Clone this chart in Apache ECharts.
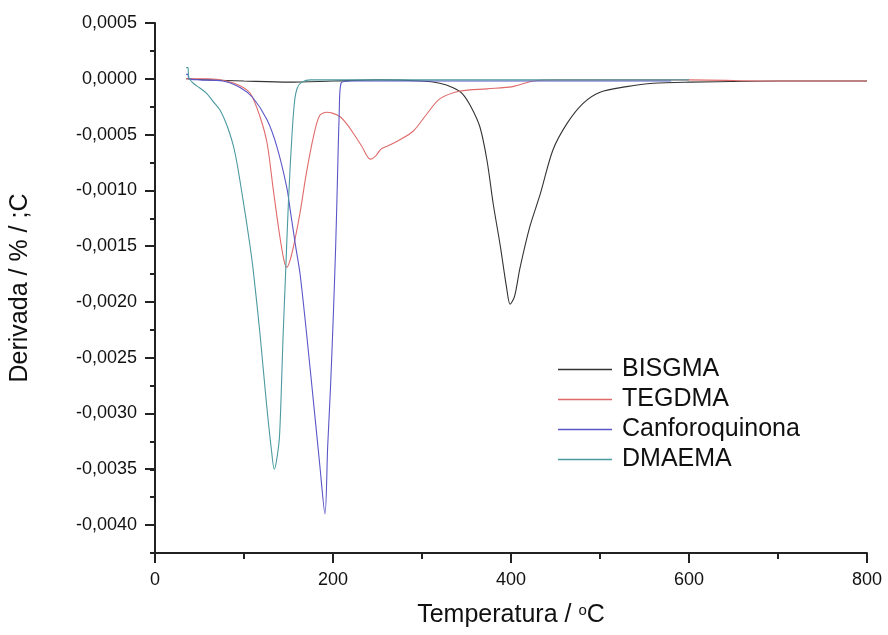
<!DOCTYPE html>
<html>
<head>
<meta charset="utf-8">
<script src="https://cdn.jsdelivr.net/npm/echarts@6/dist/echarts.min.js"></script>
<style>
  html, body { margin: 0; padding: 0; background: #fff; }
  #app { width: 888px; height: 635px; }
</style>
</head>
<body>
<div id="app"></div>
<script>
// series names
var names = ["BISGMA", "TEGDMA", "Canforoquinona", "DMAEMA"];

// BISGMA
var bisgmaT = [35, 60, 100, 150, 200, 250, 300, 320, 335, 345, 355, 365, 373, 380, 388, 395, 399, 404, 410, 421, 433, 447, 463, 481, 500, 530, 560, 600, 700, 800];
var bisgmaD = [0, -0.00001, -0.00002, -0.00003, -0.00002, -0.00001, -0.00002, -0.00004, -0.00008, -0.00013, -0.00025, -0.00043, -0.00073, -0.00112, -0.0015, -0.00187, -0.00202, -0.00195, -0.0017, -0.00133, -0.00103, -0.00064, -0.0004, -0.00022, -0.00012, -0.00007, -0.00004, -0.00003, -0.00002, -0.00002];

// TEGDMA
var tegdmaT = [35, 60, 80, 95, 107, 118, 126, 133, 140, 145, 148, 152, 157, 163, 170, 178, 185, 193, 200, 208, 215, 223, 232, 242, 248, 254, 262, 272, 290, 305, 320, 343, 373, 402, 425, 450, 500, 600, 700, 800];
var tegdmaD = [0, 0, -0.00002, -0.00006, -0.00013, -0.00034, -0.00058, -0.001, -0.0014, -0.00163, -0.00169, -0.00162, -0.00145, -0.0012, -0.00085, -0.00052, -0.00033, -0.0003, -0.00031, -0.00034, -0.0004, -0.00049, -0.0006, -0.00072, -0.00069, -0.00063, -0.0006, -0.00056, -0.00047, -0.00032, -0.00018, -0.00011, -0.00009, -0.00007, -0.00002, -0.00001, -0.00001, -0.00001, -0.00002, -0.00002];

// Canforoquinona
var canforT = [35, 37, 38, 50, 76, 96, 110, 126, 137, 148, 152, 158, 163, 170, 180, 185, 191, 194, 197, 200, 203, 205, 207, 209, 220, 300, 400, 500, 580];
var canforD = [0.00004, 0.00004, 0, -0.00001, -0.00002, -0.00008, -0.00017, -0.00037, -0.00061, -0.00097, -0.00118, -0.0015, -0.00175, -0.00226, -0.00305, -0.00345, -0.0039, -0.0033, -0.0028, -0.0022, -0.0015, -0.0009, -0.0003, -0.00004, -0.00002, -0.00002, -0.00002, -0.00002, -0.00002];

// DMAEMA
var dmaemaT = [35, 37, 38, 43, 50, 58, 65, 73, 80, 84, 88, 92, 99, 105, 110, 118, 125, 131, 134, 137, 140, 144, 147, 150, 154, 157, 160, 165, 175, 250, 400, 600];
var dmaemaD = [0.0001, 0.0001, 0.00001, -0.00004, -0.00008, -0.00013, -0.0002, -0.00028, -0.0004, -0.00049, -0.0006, -0.00075, -0.00109, -0.0014, -0.00169, -0.00229, -0.00289, -0.00334, -0.0035, -0.0034, -0.00319, -0.00229, -0.00169, -0.00109, -0.00049, -0.00019, -0.00008, -0.00003, -0.00001, -0.00001, -0.00001, -0.00001];

var colors = ["#333333", "#e06a6a", "#5a56c8", "#4b9aa0"];

function zip(xs, ys) {
  var out = [];
  for (var i = 0; i < xs.length; i++) out.push([xs[i], ys[i]]);
  return out;
}

var chartDom = document.getElementById("app");
var myChart = echarts.init(chartDom, null, { renderer: "canvas" });
var font = "Liberation Sans, Arial, sans-serif";
var axisColor = "#222";

function fmtY(v) {
  if (Math.abs(v) < 1e-9) return "0,0000";
  return v.toFixed(4).replace(".", ",");
}

var option = {
  animation: false,
  backgroundColor: "#fff",
  color: colors,
  textStyle: { fontFamily: font },
  grid: [
    { left: 155, right: 21, top: 23, bottom: 82 },
    // helper grid for the labelled major y ticks (0,0005 .. -0,0040)
    { left: 155, right: 21, top: 23, bottom: 110 }
  ],
  legend: {
    orient: "vertical",
    left: 553,
    top: 352,
    itemGap: 5,
    itemWidth: 54,
    itemHeight: 1.5,
    icon: "rect",
    textStyle: { fontSize: 25, color: "#111", fontFamily: font, padding: [0, 0, 0, 5] },
    data: names
  },
  xAxis: [
    {
      type: "value",
      gridIndex: 0,
      min: 0,
      max: 800,
      interval: 200,
      name: "Temperatura / {s|o}C",
      nameLocation: "middle",
      nameGap: 50,
      nameTextStyle: {
        fontSize: 25,
        color: "#111",
        fontFamily: font,
        rich: { s: { fontSize: 15, verticalAlign: "top", color: "#111", fontFamily: font } }
      },
      axisLine: { onZero: false, lineStyle: { color: axisColor, width: 2 } },
      axisTick: { inside: false, length: 10, lineStyle: { color: axisColor, width: 2 } },
      minorTick: { show: true, splitNumber: 2, length: 6, lineStyle: { color: axisColor, width: 2 } },
      axisLabel: { fontSize: 18, color: "#111", margin: 18, fontFamily: font },
      splitLine: { show: false }
    },
    {
      type: "value",
      gridIndex: 1,
      min: 0,
      max: 800,
      show: false
    }
  ],
  yAxis: [
    {
      type: "value",
      gridIndex: 0,
      min: -0.00425,
      max: 0.0005,
      interval: 0.00025,
      name: "Derivada / % / ;C",
      nameLocation: "middle",
      nameGap: 122,
      nameTextStyle: { fontSize: 25, color: "#111", fontFamily: font },
      axisLine: { onZero: false, lineStyle: { color: axisColor, width: 2 } },
      axisTick: { inside: false, length: 5, lineStyle: { color: axisColor, width: 2 } },
      axisLabel: { show: false },
      splitLine: { show: false }
    },
    {
      type: "value",
      gridIndex: 1,
      min: -0.004,
      max: 0.0005,
      interval: 0.0005,
      axisLine: { show: false },
      axisTick: { inside: false, length: 10, lineStyle: { color: axisColor, width: 2 } },
      axisLabel: { fontSize: 18, color: "#111", margin: 18, fontFamily: font, formatter: fmtY },
      splitLine: { show: false }
    }
  ],
  series: [
    { name: names[0], data: zip(bisgmaT, bisgmaD) },
    { name: names[1], data: zip(tegdmaT, tegdmaD) },
    { name: names[2], data: zip(canforT, canforD) },
    { name: names[3], data: zip(dmaemaT, dmaemaD) }
  ].map(function (s, i) {
    return {
      name: s.name,
      type: "line",
      xAxisIndex: 0,
      yAxisIndex: 0,
      data: s.data,
      showSymbol: false,
      symbol: "none",
      smooth: 0.3,
      lineStyle: { width: 1.1, color: colors[i] },
      itemStyle: { color: colors[i] }
    };
  })
};

option && myChart.setOption(option);
</script>
</body>
</html>
